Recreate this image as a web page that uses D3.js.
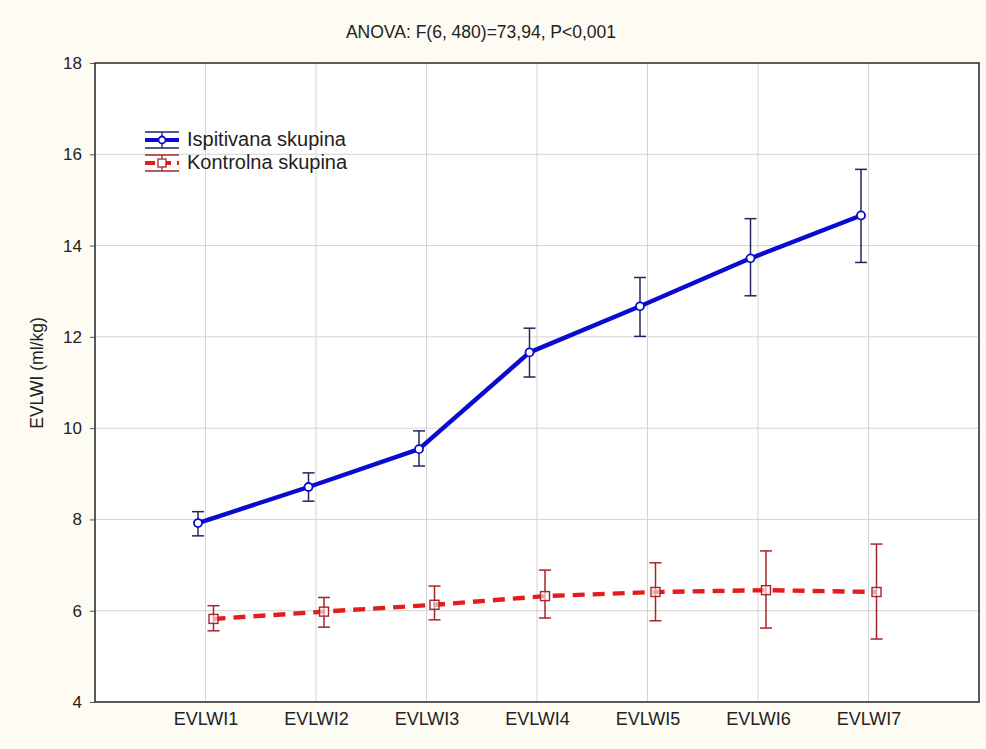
<!DOCTYPE html>
<html><head><meta charset="utf-8">
<script src="https://cdn.jsdelivr.net/npm/d3@7/dist/d3.min.js"></script>
<style>body{margin:0;background:#fdfbf2;}svg{display:block;font-family:"Liberation Sans",Arial,sans-serif;}</style>
</head><body>
<script>
const categories = ["EVLWI1","EVLWI2","EVLWI3","EVLWI4","EVLWI5","EVLWI6","EVLWI7"];
const yTicks = [4,6,8,10,12,14,16,18];
const ispMean = [7.92, 8.71, 9.54, 11.66, 12.67, 13.72, 14.66];
const ispHigh = [8.17, 9.02, 9.94, 12.19, 13.30, 14.59, 15.67];
const ispLow  = [7.64, 8.40, 9.17, 11.12, 12.01, 12.90, 13.63];
const konMean = [5.82, 5.98, 6.13, 6.32, 6.41, 6.45, 6.41];
const konHigh = [6.11, 6.29, 6.54, 6.89, 7.05, 7.31, 7.46];
const konLow  = [5.56, 5.64, 5.80, 5.84, 5.78, 5.62, 5.38];
const seriesNames = ["Ispitivana skupina","Kontrolna skupina"];
const titleText = "ANOVA: F(6, 480)=73,94, P<0,001";
const yLabel = "EVLWI (ml/kg)";

const W=986,H=749, L=95,R=979,T=63,B=702;
const FF="Liberation Sans, Arial, sans-serif";
const svg=d3.select("body").append("svg").attr("width",W).attr("height",H);
svg.append("rect").attr("width",W).attr("height",H).attr("fill","#fdfbf2");
svg.append("rect").attr("x",L).attr("y",T).attr("width",R-L).attr("height",B-T).attr("fill","#fff");

const x=d3.scalePoint().domain(categories).range([L,R]).padding(1);
const y=d3.scaleLinear().domain([4,18]).range([B,T]);

// grid
svg.append("g").selectAll("line").data(yTicks.filter(v=>v>4&&v<18)).join("line")
 .attr("x1",L).attr("x2",R).attr("y1",d=>y(d)).attr("y2",d=>y(d)).attr("stroke","#d4d4d4").attr("stroke-width",1);
svg.append("g").selectAll("line").data(categories).join("line")
 .attr("x1",d=>x(d)).attr("x2",d=>x(d)).attr("y1",T).attr("y2",B).attr("stroke","#d4d4d4").attr("stroke-width",1);

// axes
const yAxis=svg.append("g").attr("transform",`translate(${L},0)`).call(d3.axisLeft(y).tickValues(yTicks).tickSize(5).tickPadding(8));
const xAxis=svg.append("g").attr("transform",`translate(0,${B})`).call(d3.axisBottom(x).tickSize(0).tickPadding(10));
[yAxis,xAxis].forEach(a=>{a.select(".domain").remove();a.selectAll("text").attr("fill","#222").attr("font-family",FF);a.selectAll("line").attr("stroke","#555");});
yAxis.selectAll("text").attr("font-size",17);
xAxis.selectAll("text").attr("font-size",18);
svg.append("rect").attr("x",L).attr("y",T).attr("width",R-L).attr("height",B-T).attr("fill","none").attr("stroke","#333").attr("stroke-width",1.6);

svg.append("text").attr("x",481).attr("y",38).attr("text-anchor","middle").attr("font-size",17.5).attr("fill","#222").text(titleText);
svg.append("text").attr("transform","translate(43,373) rotate(-90)").attr("text-anchor","middle").attr("font-size",17.5).attr("fill","#222").text(yLabel);

const series=[
 {mean:ispMean,hi:ispHigh,lo:ispLow,off:-7.5,line:"#0a0ad0",err:"#23235e",dash:null,marker:"circle"},
 {mean:konMean,hi:konHigh,lo:konLow,off:8,line:"#e41c1c",err:"#a3262b",dash:"12,8",marker:"square"}
];
const cap=6;
series.forEach(s=>{
 const g=svg.append("g");
 const pts=categories.map((c,i)=>({x:x(c)+s.off,m:s.mean[i],h:s.hi[i],l:s.lo[i]}));
 g.append("path").datum(pts).attr("d",d3.line().x(d=>d.x).y(d=>y(d.m)))
  .attr("fill","none").attr("stroke",s.line).attr("stroke-width",4.4).attr("stroke-dasharray",s.dash).attr("stroke-linejoin","round");
 const e=g.append("g").attr("stroke",s.err).attr("stroke-width",1.5);
 e.selectAll(".v").data(pts).join("line").attr("x1",d=>d.x).attr("x2",d=>d.x).attr("y1",d=>y(d.h)).attr("y2",d=>y(d.l));
 e.selectAll(".t").data(pts).join("line").attr("x1",d=>d.x-cap).attr("x2",d=>d.x+cap).attr("y1",d=>y(d.h)).attr("y2",d=>y(d.h));
 e.selectAll(".b").data(pts).join("line").attr("x1",d=>d.x-cap).attr("x2",d=>d.x+cap).attr("y1",d=>y(d.l)).attr("y2",d=>y(d.l));
 if(s.marker==="circle"){
  g.selectAll("circle").data(pts).join("circle").attr("cx",d=>d.x).attr("cy",d=>y(d.m)).attr("r",4).attr("fill","#fff").attr("stroke",s.line).attr("stroke-width",1.8);
 } else {
  g.selectAll("rect").data(pts).join("rect").attr("x",d=>d.x-4.5).attr("y",d=>y(d.m)-4.5).attr("width",9).attr("height",9).attr("fill","#fff").attr("fill-opacity",0.6).attr("stroke",s.err).attr("stroke-width",1.4);
 }
});

// legend
const leg=[{y:140,ty:146,s:series[0]},{y:163,ty:169,s:series[1]}];
leg.forEach((d,i)=>{
 const g=svg.append("g");
 const x0=145,x1=179,xm=162;
 g.append("line").attr("x1",x0).attr("x2",x1).attr("y1",d.y-8).attr("y2",d.y-8).attr("stroke",d.s.err).attr("stroke-width",1.3);
 g.append("line").attr("x1",x0).attr("x2",x1).attr("y1",d.y+8).attr("y2",d.y+8).attr("stroke",d.s.err).attr("stroke-width",1.3);
 g.append("line").attr("x1",xm).attr("x2",xm).attr("y1",d.y-8).attr("y2",d.y+8).attr("stroke",d.s.err).attr("stroke-width",1.3);
 g.append("line").attr("x1",x0).attr("x2",x1).attr("y1",d.y).attr("y2",d.y).attr("stroke",d.s.line).attr("stroke-width",4).attr("stroke-dasharray",d.s.dash?"10,6":null);
 if(d.s.marker==="circle") g.append("circle").attr("cx",xm).attr("cy",d.y).attr("r",3.5).attr("fill","#fff").attr("stroke",d.s.line).attr("stroke-width",1.8);
 else g.append("rect").attr("x",xm-4).attr("y",d.y-4).attr("width",8).attr("height",8).attr("fill","#fff").attr("stroke",d.s.err).attr("stroke-width",1.3);
 g.append("text").attr("x",187).attr("y",d.ty).attr("font-size",20).attr("fill","#222").text(seriesNames[i]);
});
</script>
</body></html>
